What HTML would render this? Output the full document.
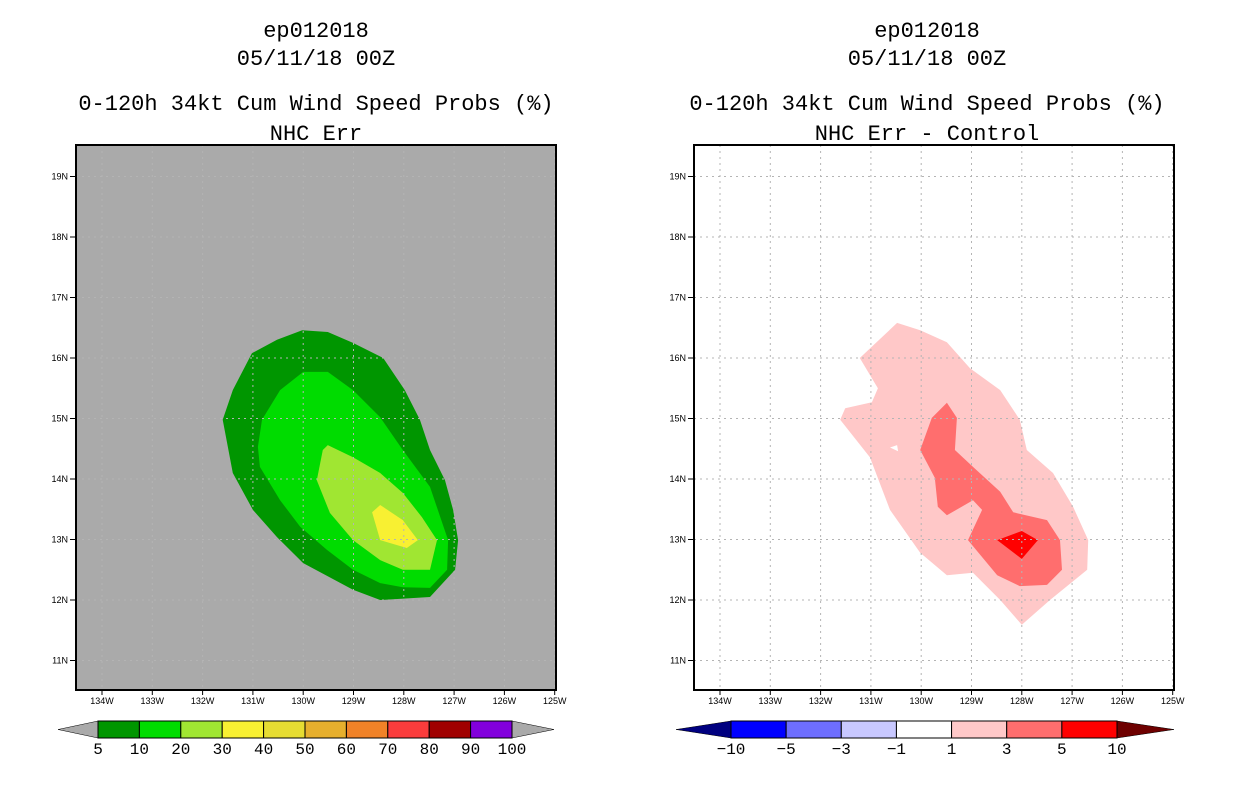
<!DOCTYPE html>
<html><head><meta charset="utf-8"><style>
body{margin:0;background:#fff;}
svg{display:block;}
.t{font-family:"Liberation Mono",monospace;font-size:22px;fill:#000;text-anchor:middle;}
.tk{font-family:"Liberation Sans",sans-serif;font-size:9px;fill:#000;}
.cb{font-family:"Liberation Mono",monospace;font-size:16px;fill:#000;text-anchor:middle;}
</style></head><body>
<svg id="chart" width="1236" height="800"></svg>
<script>
// ---- data ----
const lonTicks = [134,133,132,131,130,129,128,127,126,125];
const latTicks = [19,18,17,16,15,14,13,12,11];
const leftLevels = ["5","10","20","30","40","50","60","70","80","90","100"];
const leftColors = ["#009600","#00dc00","#a0e632","#f8f032","#e6dc32","#e6af2d","#f08228","#fa3c3c","#a00000","#8200dc"];
const rightLevels = ["-10","-5","-3","-1","1","3","5","10"];
const rightColors = ["#0000ff","#6e6eff","#c8c8ff","#ffffff","#ffc8c8","#ff6e6e","#ff0000"];
// contour polygons: [lonW, latN]
const c5Lon = [130.02,129.51,129.01,128.41,127.98,127.68,127.48,127.18,127.02,126.92,126.98,127.48,128.47,129.01,130.0,130.52,131.0,131.4,131.6,131.4,131.02,130.52];
const c5Lat = [16.46,16.43,16.25,16.0,15.47,14.98,14.48,13.98,13.49,12.99,12.50,12.05,12.0,12.17,12.61,13.04,13.49,14.10,14.98,15.47,16.08,16.30];
const c10Lon = [130.0,129.51,129.01,128.47,128.02,127.48,127.12,127.14,127.48,128.02,128.47,129.01,129.53,130.06,130.46,130.86,130.9,130.82,130.46];
const c10Lat = [15.77,15.77,15.47,15.02,14.48,13.87,12.99,12.50,12.20,12.21,12.28,12.5,12.83,13.21,13.65,14.2,14.53,14.98,15.47];
const c20Lon = [129.51,129.01,128.47,128.02,127.64,127.34,127.48,128.02,128.47,129.01,129.47,129.73,129.61];
const c20Lat = [14.56,14.36,14.10,13.77,13.37,12.99,12.50,12.50,12.66,12.99,13.44,13.98,14.48];
const c30Lon = [128.47,128.02,127.72,127.94,128.47,128.63];
const c30Lat = [13.57,13.32,12.99,12.86,12.99,13.45];
const d1Lon = [130.48,130.02,129.49,129.03,128.43,128.04,127.9,127.38,126.98,126.68,126.7,127.44,128.0,128.43,128.97,129.49,130.02,130.62,131.02,131.61,131.51,130.98,130.86,131.22];
const d1Lat = [16.58,16.46,16.26,15.83,15.47,14.98,14.48,14.10,13.54,12.99,12.5,12.0,11.59,12.0,12.45,12.41,12.78,13.49,14.36,14.98,15.17,15.27,15.50,16.0];
const holeLon = [130.62,130.48,130.46];
const holeLat = [14.52,14.56,14.46];
const d3Lon = [129.49,129.29,129.33,128.97,128.43,128.17,127.5,127.24,127.2,127.5,128.04,128.49,129.07,128.79,128.97,129.49,129.67,129.73,130.02,129.79];
const d3Lat = [15.26,15.01,14.48,14.2,13.79,13.45,13.32,12.99,12.5,12.25,12.23,12.41,12.99,13.49,13.65,13.40,13.54,14.02,14.48,15.01];
const d5Lon = [128.49,128.0,127.68,128.0];
const d5Lat = [12.99,13.14,12.99,12.68];

const NS="http://www.w3.org/2000/svg";
const svg=document.getElementById('chart');
function el(tag,attrs,parent){const e=document.createElementNS(NS,tag);for(const k in attrs)e.setAttribute(k,attrs[k]);(parent||svg).appendChild(e);return e;}
const boxTop=145,boxBot=690,boxW=480;
function xs(off){return lon=>off+102+(134-lon)*50.3;}
function ys(lat){return 358+(16-lat)*60.5;}
function poly(g,X,lons,lats,fill,name){
  const p=el('polygon',{points:lons.map((l,i)=>X(l).toFixed(1)+','+ys(lats[i]).toFixed(1)).join(' '),fill:fill},g);
  
  
}
function title(cx,lines){
  const ys_=[37,65,110,140];
  lines.forEach((s,i)=>{const t=el('text',{x:cx,y:ys_[i],class:'t'});t.textContent=s;
    
    });
}
function panel(off,bg,name,drawFn){
  const g=el('g',{});
  
  
  const X=xs(off);
  el('rect',{x:off+76,y:boxTop,width:boxW,height:boxBot-boxTop,fill:bg},g);
  drawFn(g,X);
  lonTicks.forEach(l=>{const x=X(l);
    const gl=el('line',{x1:x,y1:boxTop,x2:x,y2:boxBot,stroke:'#b4b4b4','stroke-width':1,'stroke-dasharray':'2,4'},g);
    
    
    el('line',{x1:x,y1:boxBot,x2:x,y2:boxBot+5,stroke:'#000'},g);
    const t=el('text',{x:x,y:704,class:'tk','text-anchor':'middle'},g);t.textContent=l+'W';
    
    
  });
  latTicks.forEach(l=>{const y=ys(l);
    const gl=el('line',{x1:off+76,y1:y,x2:off+556,y2:y,stroke:'#b4b4b4','stroke-width':1,'stroke-dasharray':'2,4'},g);
    
    
    el('line',{x1:off+70,y1:y,x2:off+76,y2:y,stroke:'#000'},g);
    const t=el('text',{x:off+68,y:y+3,class:'tk','text-anchor':'end'},g);t.textContent=l+'N';
    
    
  });
  el('rect',{x:off+76,y:boxTop,width:boxW,height:boxBot-boxTop,fill:'none',stroke:'#000','stroke-width':2},g);
}
title(316,["ep012018","05/11/18 00Z","0-120h 34kt Cum Wind Speed Probs (%)","NHC Err"]);
title(927,["ep012018","05/11/18 00Z","0-120h 34kt Cum Wind Speed Probs (%)","NHC Err - Control"]);
panel(0,'#aaaaaa','left-map',(g,X)=>{
  poly(g,X,c5Lon,c5Lat,leftColors[0],'contour-5');
  poly(g,X,c10Lon,c10Lat,leftColors[1],'contour-10');
  poly(g,X,c20Lon,c20Lat,leftColors[2],'contour-20');
  poly(g,X,c30Lon,c30Lat,leftColors[3],'contour-30');
});
panel(618,'#ffffff','right-map',(g,X)=>{
  poly(g,X,d1Lon,d1Lat,rightColors[4],'contour-diff-1');
  poly(g,X,holeLon,holeLat,'#ffffff','contour-diff-hole');
  poly(g,X,d3Lon,d3Lat,rightColors[5],'contour-diff-3');
  poly(g,X,d5Lon,d5Lat,rightColors[6],'contour-diff-5');
});
function colorbar(name,x0,x1,tipL,tipR,colors,labels,cL,cR){
  const g=el('g',{});
  
  
  const y0=721,y1=738,ym=(y0+y1)/2;
  el('polygon',{points:`${tipL},${ym} ${x0},${y0} ${x0},${y1}`,fill:cL,stroke:'#000','stroke-width':0.5},g);
  el('polygon',{points:`${tipR},${ym} ${x1},${y0} ${x1},${y1}`,fill:cR,stroke:'#000','stroke-width':0.5},g);
  const w=(x1-x0)/colors.length;
  colors.forEach((c,i)=>{const r=el('rect',{x:x0+i*w,y:y0,width:w,height:y1-y0,fill:c,stroke:'#000','stroke-width':1},g);
    
    });
  labels.forEach((s,i)=>{const t=el('text',{x:x0+i*w,y:754,class:'cb'},g);t.textContent=s.replace('-','\u2212');
    
    });
}
colorbar('left-colorbar',98,512,58,554,leftColors,leftLevels,'#aaaaaa','#aaaaaa');
colorbar('right-colorbar',731,1117,676,1174,rightColors,rightLevels,'#000080','#6e0000');
</script>
</body></html>
